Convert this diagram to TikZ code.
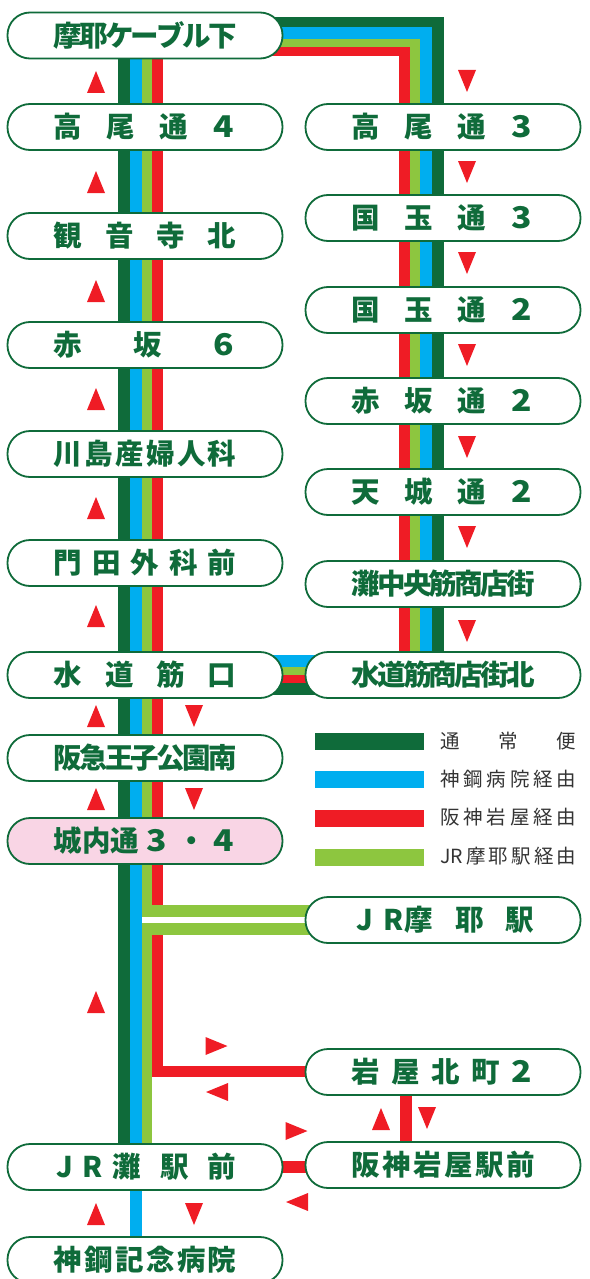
\documentclass[tikz,border=0pt]{standalone}
\usepackage{fontspec}
\setmainfont{Noto Sans CJK JP}
\definecolor{dk}{HTML}{0F6B3A}
\definecolor{bl}{HTML}{00AEEF}
\definecolor{rd}{HTML}{EF1C25}
\definecolor{gr}{HTML}{8DC63F}
\definecolor{pk}{HTML}{F9D5E5}
\definecolor{lg}{HTML}{333333}
\newcommand{\st}{\hspace{0pt plus 1fil minus 1fil}}
\newcommand{\sname}[1]{\makebox[183pt][s]{#1}}
\newcommand{\lgt}[1]{\makebox[136pt][s]{#1}}
\newcommand{\dg}[1]{\scalebox{1.18}[1.05]{#1}\hspace{3pt}}
\pgfdeclarelayer{lines}\pgfsetlayers{lines,main}
\tikzset{
  stn/.style={draw=dk,line width=1.8pt,fill=white,rounded corners=22.5pt,minimum width=275pt,minimum height=46pt,inner sep=0pt,text=dk,font=\fontsize{28.5}{28}\selectfont\bfseries},
  pinkstn/.style={stn,fill=pk},
  ldk/.style={draw=dk,line width=12pt},
  lbl/.style={draw=bl,line width=12pt},
  lgr/.style={draw=gr,line width=10pt},
  lrd/.style={draw=rd,line width=11pt},
  legbar/.style={inner sep=0pt,minimum width=109pt,minimum height=17pt},
  legtxt/.style={anchor=west,inner sep=0pt,text=lg,font=\fontsize{19.5}{20}\selectfont},
  tu/.pic={\fill[rd] (-9,11) -- (0,-11) -- (9,11) -- cycle;},
  td/.pic={\fill[rd] (-9,-11) -- (0,11) -- (9,-11) -- cycle;},
  tr/.pic={\fill[rd] (-11,-9) -- (11,0) -- (-11,9) -- cycle;},
  tl/.pic={\fill[rd] (11,-9) -- (-11,0) -- (11,9) -- cycle;},
}
\begin{document}
\begin{tikzpicture}[x=1pt,y=-1pt]
\useasboundingbox (0,0) rectangle (589,1279);
\clip (0,0) rectangle (589,1279);
% reference positions of the parallel lines
\coordinate (LD) at (124,0); \coordinate (LB) at (136,0); \coordinate (LG) at (147,0); \coordinate (LR) at (157.5,0);
\coordinate (RD) at (437.5,0); \coordinate (RB) at (426,0); \coordinate (RG) at (415,0); \coordinate (RR) at (404.5,0);
\coordinate (TD) at (0,23.5); \coordinate (TB) at (0,33.5); \coordinate (TG) at (0,42); \coordinate (TR) at (0,50.5);
\coordinate (WD) at (0,689); \coordinate (WB) at (0,661); \coordinate (WG) at (0,671); \coordinate (WR) at (0,679);
\coordinate (JA) at (0,911); \coordinate (JB) at (0,928.5); \coordinate (JW) at (0,919.75);
\coordinate (JX) at (152,0); \coordinate (JY) at (142,0);
\coordinate (IW) at (0,1071); \coordinate (HR) at (0,1167); \coordinate (HV) at (405.5,0);
% left column
\node[stn] (maya) at (145,35.5) {\sname{摩\st 耶\st ケ\st ー\st ブ\st ル\st 下}};
\node[stn] (l1) at (145,127) {\sname{高\st 尾\st 通\st \dg{4}}};
\node[stn] (l2) at (145,236) {\sname{観\st 音\st 寺\st 北}};
\node[stn] (l3) at (145,345) {\sname{赤\st 坂\st \dg{6}}};
\node[stn] (l4) at (145,454) {\sname{川\st 島\st 産\st 婦\st 人\st 科}};
\node[stn] (l5) at (145,563) {\sname{門\st 田\st 外\st 科\st 前}};
\node[stn] (sui) at (145,675) {\sname{水\st 道\st 筋\st 口}};
\node[stn] (l7) at (145,758) {\sname{阪\st 急\st 王\st 子\st 公\st 園\st 南}};
\node[pinkstn] (l8) at (145,841) {\sname{城内通\st \dg{3}\st ・\st \dg{4}}};
\node[stn] (nada) at (145,1167) {\sname{\hspace{3pt}J\st R\st 灘\st\st 駅\st\st 前}};
\node[stn] (shin) at (145,1260) {\sname{神\st 鋼\st 記\st 念\st 病\st 院}};
% right column
\node[stn] (r1) at (443,127) {\sname{高\st 尾\st 通\st \dg{3}}};
\node[stn] (r2) at (443,218) {\sname{国\st 玉\st 通\st \dg{3}}};
\node[stn] (r3) at (443,310) {\sname{国\st 玉\st 通\st \dg{2}}};
\node[stn] (r4) at (443,401) {\sname{赤\st 坂\st 通\st \dg{2}}};
\node[stn] (r5) at (443,492) {\sname{天\st 城\st 通\st \dg{2}}};
\node[stn] (r6) at (443,584) {\sname{灘\st 中\st 央\st 筋\st 商\st 店\st 街}};
\node[stn] (suin) at (443,675) {\sname{水\st 道\st 筋\st 商\st 店\st 街\st 北}};
\node[stn] (jrm) at (443,920) {\sname{\hspace{5pt}J\hspace{10pt}R\hspace{1pt}摩\st 耶\st 駅}};
\node[stn] (iwak) at (443,1072) {\sname{岩\st 屋\st 北\st 町\st \dg{2}}};
\node[stn] (hansh) at (443,1165) {\sname{阪\st 神\st 岩\st 屋\st 駅\st 前}};
% connectors, behind the stations
\begin{pgfonlayer}{lines}
\draw[ldk] (LD |- maya) -- (LD |- nada);
\draw[lbl] (LB |- maya) -- (LB |- shin);
\draw[lgr] (LG |- maya) -- (LG |- nada);
\draw[lrd] (LR |- maya) -- (LR |- IW) -- (iwak.center |- IW);
\draw[ldk] (maya |- TD) -- (RD |- TD) -- (RD |- suin);
\draw[lrd] (maya |- TR) -- (RR |- TR) -- (RR |- suin);
\draw[lgr] (maya |- TG) -- (RG |- TG) -- (RG |- suin);
\draw[lbl] (maya |- TB) -- (RB |- TB) -- (RB |- suin);
\draw[dk,line width=12pt] (sui |- WD) -- (suin |- WD);
\draw[bl,line width=12pt] (sui |- WB) -- (suin |- WB);
\draw[gr,line width=8pt] (sui |- WG) -- (suin |- WG);
\draw[rd,line width=8pt] (sui |- WR) -- (suin |- WR);
\draw[white,line width=5.5pt] (JY |- JW) -- (jrm |- JW);
\draw[gr,line width=12pt] (JX |- JA) -- (jrm |- JA);
\draw[gr,line width=12pt] (JY |- JB) -- (jrm |- JB);
\draw[rd,line width=12pt] (nada |- HR) -- (hansh |- HR);
\draw[rd,line width=12pt] (HV |- iwak) -- (HV |- hansh);
\end{pgfonlayer}
% legend
\node[legbar,fill=dk] (k1) at (369.5,741.5) {};
\node[legbar,fill=bl] (k2) at (369.5,779.5) {};
\node[legbar,fill=rd] (k3) at (369.5,818.5) {};
\node[legbar,fill=gr] (k4) at (369.5,857.5) {};
\node[legtxt] (t1) at (440,741) {\lgt{通\st 常\st 便}};
\node[legtxt] (t2) at (440,779) {\lgt{神\st 鋼\st 病\st 院\st 経\st 由}};
\node[legtxt] (t3) at (440,817) {\lgt{阪\st 神\st 岩\st 屋\st 経\st 由}};
\node[legtxt] (t4) at (440,856) {\lgt{JR\st 摩\st 耶\st 駅\st 経\st 由}};
% triangles
\foreach \y in {82,182,291,399,508,616,716,799,1002,1214} \pic at (96,\y) {tu};
\foreach \y in {81,172,263,355,447,537,631} \pic at (467,\y) {td};
\foreach \y in {716,799,1214} \pic at (194,\y) {td};
\pic at (216.5,1046) {tr};
\pic at (217,1092) {tl};
\pic at (381,1119) {tu};
\pic at (427,1118) {td};
\pic at (296.5,1131) {tr};
\pic at (297,1202) {tl};
\end{tikzpicture}
\end{document}
